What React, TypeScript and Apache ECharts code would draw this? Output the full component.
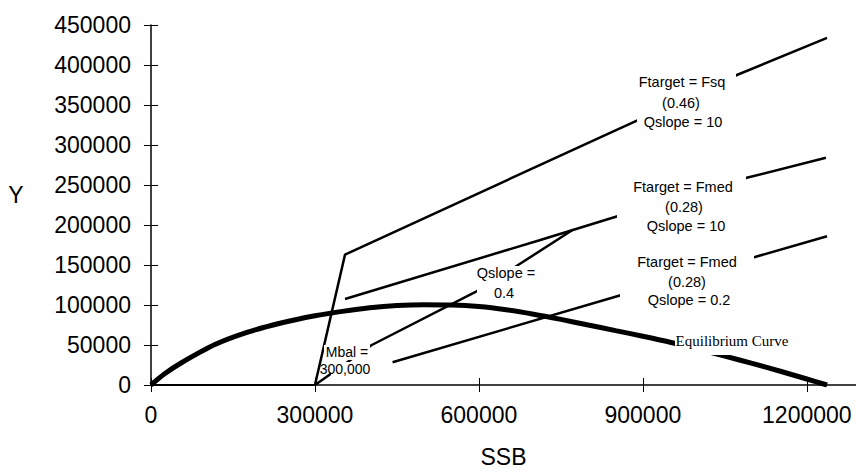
import React, { useEffect, useRef } from "react";
import * as echarts from "echarts";

// Equilibrium curve
const eqSSB = [0, 25000, 55000, 117000, 177000, 238000, 300000, 350000, 400000, 450000, 500000, 550000, 600000, 650000, 700000, 750000, 800000, 850000, 900000, 950000, 1000000, 1050000, 1100000, 1150000, 1200000, 1237000];
const eqY = [0, 14000, 27500, 50500, 66000, 77500, 86500, 92000, 96500, 99300, 100300, 100000, 98000, 94000, 88500, 82000, 75000, 68000, 61000, 53500, 45000, 36000, 27000, 17500, 7500, 0];

// Ftarget = Fsq (0.46), Qslope = 10
const fsqSSB = [300000, 355000, 852000, 1072000, 1237000];
const fsqY = [0, 163000, 319000, 387500, 434000];

// Ftarget = Fmed (0.28), Qslope = 10
const fmed10SSB = [355000, 711000, 849000, 1090000, 1235000];
const fmed10Y = [107500, 181000, 210000, 259000, 284000];

// Qslope = 0.4
const q04SSB = [300000, 404000, 593000, 666000, 772000];
const q04Y = [0, 50000, 116000, 147500, 194000];

// Ftarget = Fmed (0.28), Qslope = 0.2
const fmed02SSB = [442000, 853000, 1105000, 1237000];
const fmed02Y = [28500, 111000, 160000, 186000];

// HCR zero segment below Mbal
const zeroSSB = [0, 300000];
const zeroY = [0, 0];

const xTicks = { min: 0, max: 1290000, interval: 300000 };
const yTicks = { min: 0, max: 450000, interval: 50000 };

const pairs = (xs: number[], ys: number[]) => xs.map((x, i) => [x, ys[i]]);

const SANS = '"Liberation Sans", Arial, sans-serif';
const SERIF = '"Liberation Serif", "Times New Roman", serif';

export default function App() {
  const ref = useRef<HTMLDivElement>(null);
  useEffect(() => {
    if (!ref.current) return;
    const chart = echarts.init(ref.current, null, { renderer: "svg" });
    const lineStyle = (w: number) => ({ color: "#000", width: w });
    const mkLine = (name: string, xs: number[], ys: number[], w: number, smooth: number | boolean = false) => ({
      name,
      type: "line",
      data: pairs(xs, ys),
      showSymbol: false,
      symbol: "none",
      smooth,
      lineStyle: lineStyle(w),
      itemStyle: { color: "#000" },
      z: 3,
    });
    const rect = (x: number, y: number, w: number, h: number) => ({
      type: "rect",
      shape: { x, y, width: w, height: h },
      style: { fill: "#fff" },
      z: 100,
    });
    const txt = (text: string, x: number, y: number, size: number, family = SANS) => ({
      type: "text",
      x,
      y,
      z: 101,
      style: {
        text,
        font: `${size}px ${family}`,
        fill: "#000",
        textAlign: "center",
        textVerticalAlign: "middle",
        align: "center",
        verticalAlign: "middle",
      },
    });
    chart.setOption({
      animation: false,
      backgroundColor: "#fff",
      grid: { left: 151, right: 0, top: 25, bottom: 90, containLabel: false },
      xAxis: [
        {
          type: "value",
          min: xTicks.min,
          max: xTicks.max,
          interval: xTicks.interval,
          name: "SSB",
          nameLocation: "middle",
          nameGap: 60,
          nameTextStyle: { fontSize: 23, fontFamily: SANS, color: "#000" },
          axisLine: { show: true, lineStyle: { color: "#000", width: 1.5 } },
          axisTick: { show: true, length: 7, lineStyle: { color: "#000" } },
          axisLabel: {
            fontSize: 23,
            fontFamily: SANS,
            color: "#000",
            margin: 18,
            showMaxLabel: false,
            formatter: (v: number) => (v % 300000 === 0 ? String(v) : ""),
          },
          splitLine: { show: false },
        },
        {
          type: "value",
          position: "bottom",
          min: xTicks.min,
          max: xTicks.max,
          interval: xTicks.interval,
          axisLine: { show: false },
          axisTick: { show: true, inside: true, length: 7, lineStyle: { color: "#000" } },
          axisLabel: { show: false },
          splitLine: { show: false },
        },
      ],
      yAxis: [
        {
          type: "value",
          min: yTicks.min,
          max: yTicks.max,
          interval: yTicks.interval,
          axisLine: { show: true, lineStyle: { color: "#000", width: 1.5 } },
          axisTick: { show: true, length: 7, lineStyle: { color: "#000" } },
          axisLabel: {
            fontSize: 23,
            fontFamily: SANS,
            color: "#000",
            margin: 20,
            formatter: (v: number) => String(v),
          },
          splitLine: { show: false },
        },
        {
          type: "value",
          position: "left",
          min: yTicks.min,
          max: yTicks.max,
          interval: yTicks.interval,
          axisLine: { show: false },
          axisTick: { show: true, inside: true, length: 7, lineStyle: { color: "#000" } },
          axisLabel: { show: false },
          splitLine: { show: false },
        },
      ],
      series: [
        mkLine("Zero", zeroSSB, zeroY, 2),
        mkLine("Equilibrium Curve", eqSSB, eqY, 5, 0.3),
        mkLine("Ftarget = Fsq (0.46) Qslope = 10", fsqSSB, fsqY, 2.5),
        mkLine("Ftarget = Fmed (0.28) Qslope = 10", fmed10SSB, fmed10Y, 2.5),
        mkLine("Qslope = 0.4", q04SSB, q04Y, 2.5),
        mkLine("Ftarget = Fmed (0.28) Qslope = 0.2", fmed02SSB, fmed02Y, 2.5),
      ],
      graphic: [
        rect(637, 69, 99, 63),
        rect(617, 173, 129, 63),
        rect(620, 249, 134, 60),
        rect(675, 332, 114, 23),
        rect(477, 266, 59, 34),
        rect(324, 345, 46, 15),
        rect(331, 362, 43, 14),
        txt("Ftarget = Fsq", 682, 82, 14.5),
        txt("(0.46)", 681, 103, 14.5),
        txt("Qslope = 10", 683, 122, 14.5),
        txt("Ftarget = Fmed", 683, 187, 14.5),
        txt("(0.28)", 684, 207, 14.5),
        txt("Qslope = 10", 686, 226, 14.5),
        txt("Ftarget = Fmed", 687, 262, 14.5),
        txt("(0.28)", 687, 282, 14.5),
        txt("Qslope = 0.2", 689, 300, 14.5),
        txt("Equilibrium Curve", 732, 341, 15, SERIF),
        txt("Qslope =", 506, 273, 14.5),
        txt("0.4", 504, 293, 14.5),
        txt("Mbal =", 347, 352, 14),
        txt("300,000", 345, 369, 14),
        txt("Y", 16, 195, 23),
      ],
    });
    return () => chart.dispose();
  }, []);
  return (
    <div
      ref={ref}
      style={{ position: "absolute", left: 0, top: 0, width: 856, height: 475, background: "#fff" }}
    />
  );
}
